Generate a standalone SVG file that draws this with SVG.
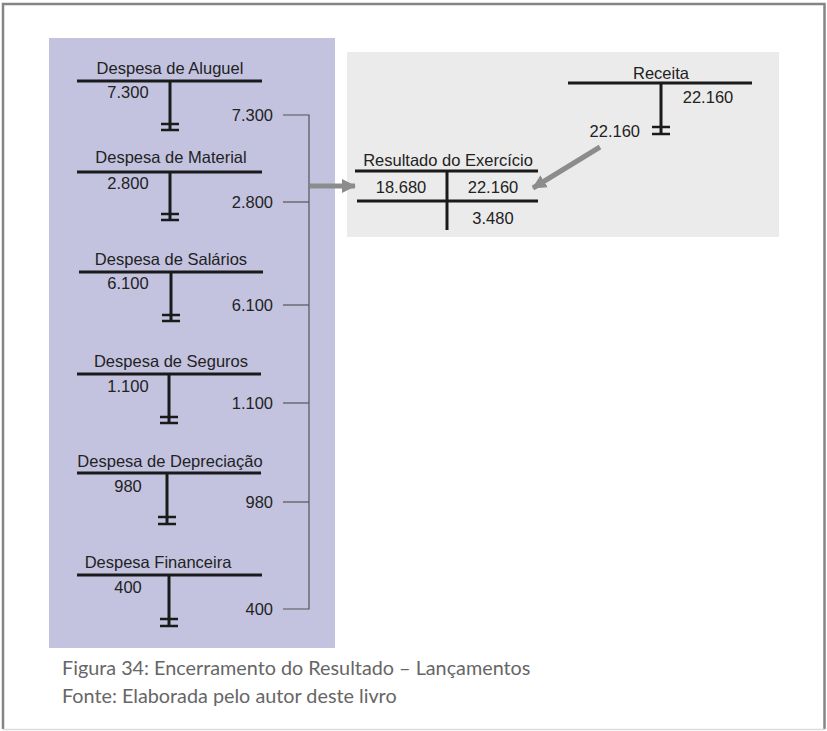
<svg xmlns="http://www.w3.org/2000/svg" width="827" height="731" viewBox="0 0 827 731">
<defs>
<style>
.t{font-family:"Liberation Sans",Arial,sans-serif;font-size:16.5px;fill:#222}
.m{text-anchor:middle}
.e{text-anchor:end}
.ln{stroke:#1a1a1a;stroke-width:3;fill:none}
.tk{stroke:#1a1a1a;stroke-width:2.5;fill:none}
.cn{stroke:#555;stroke-width:1.2;fill:none}
.ar{stroke:#8c8c8c;stroke-width:5;fill:none}
.cap{font-family:Lato,"Open Sans",sans-serif;font-size:19.8px;fill:#666}
</style>
<marker id="ah" markerUnits="userSpaceOnUse" markerWidth="16" markerHeight="16" viewBox="0 0 16 16" refX="13" refY="8" orient="auto">
<path d="M0,1 L14,8 L0,15 Z" fill="#8c8c8c"/>
</marker>
</defs>
<rect x="0" y="0" width="827" height="731" fill="#fff"/>
<path d="M3,729 L3,4 L824.5,4 L824.5,729" fill="none" stroke="#858585" stroke-width="2.5"/>
<line x1="3" y1="729.5" x2="825" y2="729.5" stroke="#dcdcdc" stroke-width="1.5"/>
<rect x="49" y="38" width="286" height="610" fill="#c3c3e0"/>
<rect x="347" y="52" width="432" height="185" fill="#ebebeb"/>

<g id="aluguel">
<text class="t m" x="170" y="74">Despesa de Aluguel</text>
<line class="ln" x1="77" y1="81" x2="262" y2="81"/>
<line class="ln" x1="170" y1="81" x2="170" y2="131"/>
<line class="tk" x1="161" y1="124" x2="179" y2="124"/>
<line class="tk" x1="161" y1="130" x2="179" y2="130"/>
<text class="t m" x="128" y="98">7.300</text>
<text class="t e" x="273" y="121">7.300</text>
</g>
<g id="material">
<text class="t m" x="171" y="163">Despesa de Material</text>
<line class="ln" x1="77" y1="172" x2="262" y2="172"/>
<line class="ln" x1="170" y1="172" x2="170" y2="221"/>
<line class="tk" x1="161" y1="214" x2="179" y2="214"/>
<line class="tk" x1="161" y1="220" x2="179" y2="220"/>
<text class="t m" x="128" y="189">2.800</text>
<text class="t e" x="273" y="208">2.800</text>
</g>
<g id="salarios">
<text class="t m" x="171" y="265">Despesa de Salários</text>
<line class="ln" x1="79" y1="272" x2="263" y2="272"/>
<line class="ln" x1="171" y1="272" x2="171" y2="322"/>
<line class="tk" x1="162" y1="315" x2="180" y2="315"/>
<line class="tk" x1="162" y1="321" x2="180" y2="321"/>
<text class="t m" x="128" y="289">6.100</text>
<text class="t e" x="273" y="311">6.100</text>
</g>
<g id="seguros">
<text class="t m" x="171" y="367">Despesa de Seguros</text>
<line class="ln" x1="77" y1="374" x2="261" y2="374"/>
<line class="ln" x1="169" y1="374" x2="169" y2="424"/>
<line class="tk" x1="160" y1="417" x2="178" y2="417"/>
<line class="tk" x1="160" y1="423" x2="178" y2="423"/>
<text class="t m" x="128" y="392">1.100</text>
<text class="t e" x="273" y="409">1.100</text>
</g>
<g id="depreciacao">
<text class="t m" x="170" y="467">Despesa de Depreciação</text>
<line class="ln" x1="77" y1="473" x2="261" y2="473"/>
<line class="ln" x1="167" y1="473" x2="167" y2="525"/>
<line class="tk" x1="158" y1="517" x2="176" y2="517"/>
<line class="tk" x1="158" y1="524" x2="176" y2="524"/>
<text class="t m" x="128" y="492">980</text>
<text class="t e" x="273" y="508">980</text>
</g>
<g id="financeira">
<text class="t m" x="158" y="568">Despesa Financeira</text>
<line class="ln" x1="77" y1="575" x2="262" y2="575"/>
<line class="ln" x1="169" y1="575" x2="169" y2="627"/>
<line class="tk" x1="160" y1="619" x2="178" y2="619"/>
<line class="tk" x1="160" y1="626" x2="178" y2="626"/>
<text class="t m" x="128" y="593">400</text>
<text class="t e" x="273" y="615">400</text>
</g>
<g id="resultado">
<text class="t m" x="448" y="166">Resultado do Exercício</text>
<line class="ln" x1="355" y1="171" x2="538" y2="171"/>
<line class="ln" x1="357" y1="201" x2="538" y2="201"/>
<line class="ln" x1="447" y1="171" x2="447" y2="230"/>
<text class="t m" x="401" y="193">18.680</text>
<text class="t m" x="493" y="193">22.160</text>
<text class="t m" x="493" y="224">3.480</text>
</g>
<g id="receita">
<text class="t m" x="661" y="79">Receita</text>
<line class="ln" x1="568" y1="83" x2="752" y2="83"/>
<line class="ln" x1="661" y1="83" x2="661" y2="135"/>
<line class="tk" x1="652" y1="127" x2="670" y2="127"/>
<line class="tk" x1="652" y1="134" x2="670" y2="134"/>
<text class="t m" x="708" y="103">22.160</text>
<text class="t e" x="640" y="137">22.160</text>
</g>
<g id="connectors">
<path class="cn" d="M283,115 H309 V609 H283"/>
<line class="cn" x1="283" y1="202" x2="309" y2="202"/>
<line class="cn" x1="283" y1="305" x2="309" y2="305"/>
<line class="cn" x1="283" y1="403" x2="309" y2="403"/>
<line class="cn" x1="283" y1="502" x2="309" y2="502"/>
<line class="ar" x1="310" y1="186" x2="355" y2="186" marker-end="url(#ah)"/>
<line class="ar" x1="600" y1="147" x2="533" y2="188" marker-end="url(#ah)"/>
</g>
<g id="caption">
<text class="cap" x="62" y="675">Figura 34: Encerramento do Resultado – Lançamentos</text>
<text class="cap" x="62" y="703">Fonte: Elaborada pelo autor deste livro</text>
</g>
</svg>
